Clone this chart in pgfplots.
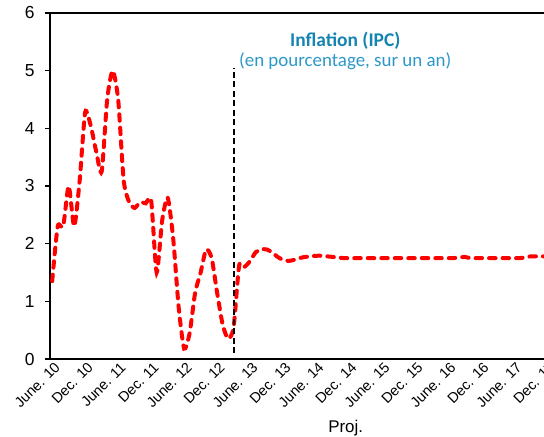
\documentclass[border=0pt]{standalone}
\usepackage{pgfplots}
\pgfplotsset{compat=1.18}
\usepackage{fontspec}
\setmainfont{Liberation Sans}
\newfontfamily\calibri{Carlito}
\definecolor{titleblue}{RGB}{22,132,178}
\definecolor{subblue}{RGB}{45,152,200}
\definecolor{ipcred}{RGB}{255,0,0}

\begin{document}
\begin{tikzpicture}
\useasboundingbox (0,0) rectangle (544bp,437bp);
\begin{axis}[
    at={(50bp,78bp)}, anchor=south west,
    scale only axis,
    width=497bp, height=346bp,
    xmin=-0.4, xmax=90,
    ymin=0, ymax=6,
    ytick={0,1,...,6},
    xtick={0,6,...,90},
    xticklabels={June. 10,Dec. 10,June. 11,Dec. 11,June. 12,Dec. 12,June. 13,Dec. 13,June. 14,Dec. 14,June. 15,Dec. 15,June. 16,Dec. 16,June. 17,Dec. 17},
    x tick label style={rotate=45, anchor=north east, font=\fontsize{14.5}{14.5}\selectfont, inner sep=1pt, xshift=4bp, yshift=2bp},
    y tick label style={font=\fontsize{17.5}{17.5}\selectfont, xshift=-7bp},
    /pgf/number format/assume math mode=true,
    axis line style={line width=3pt},
    axis x line*=bottom,
    axis y line*=left,
    xtick style={draw=none},
    ytick style={line width=1.5pt, black},
    tick align=outside,
    major tick length=5bp,
    clip=false,
]
% top border line
\draw[line width=3pt] (axis cs:-0.4,6) -- (axis cs:90,6);

\addplot[ipcred, line width=4bp, line cap=round, dash pattern=on 6.5bp off 7bp, smooth, tension=0.4] coordinates {
(0,1.35) (1,2.3) (2,2.3) (3,3.0) (4,2.3) (5,3.1) (6,4.28) (7,4.05) (8,3.6) (9,3.25)
(10,4.5) (11,5.0) (12,4.5) (13,3.1) (14,2.72) (15,2.62) (16,2.72) (17,2.7) (18,2.75) (19,1.5)
(20,2.4) (21,2.8) (22,2.1) (23,0.9) (24,0.18) (25,0.45) (26,1.15) (27,1.5) (28,1.9) (29,1.75)
(30,1.15) (31,0.6) (32,0.35) (33,0.55) (34,1.62) (35,1.6) (36,1.7) (37,1.85) (38,1.9) (39,1.9)
(40,1.85) (41,1.77) (42,1.72) (43,1.7) (44,1.72) (45,1.75) (46,1.77) (47,1.78) (48,1.79) (49,1.79)
(50,1.78) (51,1.77) (52,1.76) (53,1.75) (54,1.75) (55,1.75) (56,1.75) (57,1.75) (58,1.75) (59,1.75)
(60,1.75) (61,1.75) (62,1.75) (63,1.75) (64,1.75) (65,1.75) (66,1.75) (67,1.75) (68,1.75) (69,1.75)
(70,1.75) (71,1.75) (72,1.75) (73,1.75) (74,1.76) (75,1.77) (76,1.75) (77,1.75) (78,1.75) (79,1.75)
(80,1.75) (81,1.75) (82,1.75) (83,1.75) (84,1.75) (85,1.75) (86,1.76) (87,1.78) (88,1.78) (89,1.78)
(90,1.78)
};

\addplot[black, line width=2.5pt, dash pattern=on 6bp off 3.5bp] coordinates {(33.1,0.1) (33.1,5.05)};

\node[font=\calibri\bfseries\fontsize{19.5}{19.5}\selectfont, text=titleblue] at (axis cs:53.3,5.52) {Inflation (IPC)};
\node[font=\calibri\fontsize{19}{19}\selectfont, text=subblue] at (axis cs:53.3,5.17) {(en pourcentage, sur un an)};
\node[font=\fontsize{17}{17}\selectfont] at (rel axis cs:0.595,0) [yshift=-69bp] {Proj.};
\end{axis}
\end{tikzpicture}
\end{document}
